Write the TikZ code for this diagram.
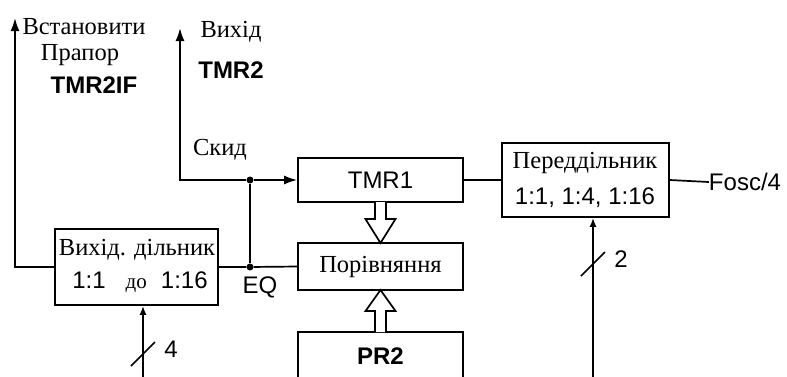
\documentclass[tikz,border=0pt]{standalone}
\usepackage{fontspec}
\setmainfont{Liberation Serif}
\setsansfont{Liberation Sans}
\usetikzlibrary{arrows.meta}
\begin{document}
\begin{tikzpicture}[x=1pt,y=-1pt,
    blk/.style={draw,line width=1.7pt,inner sep=0pt},
    wire/.style={line width=1.7pt},
    arw/.style={wire,-{Latex[length=13pt,width=9pt]}},
    arwsm/.style={wire,-{Latex[length=9pt,width=7pt]}},
    dot/.style={circle,fill,inner sep=0pt,minimum size=7pt},
    ser/.style={inner sep=0pt,font=\fontsize{24.5}{28}\selectfont},
    sans/.style={inner sep=0pt,font=\sffamily\fontsize{24}{28}\selectfont},
    sansb/.style={inner sep=0pt,font=\sffamily\bfseries\fontsize{24}{28}\selectfont}]
  \clip (0,0) rectangle (787,376);
  % блоки
  \node[blk,minimum width=163,minimum height=76] (div) at (136.5,267) {};
  \node[blk,sans,minimum width=165,minimum height=44] (tmr1) at (380.5,180) {TMR1};
  \node[blk,ser,minimum width=165,minimum height=47] (cmp) at (380.5,266.5) {Порівняння};
  \node[blk,sansb,minimum width=165,minimum height=48] (pr2) at (380.5,356) {PR2};
  \node[blk,minimum width=167,minimum height=74] (pre) at (585.5,180) {};
  % написи в блоках
  \node[ser] (divname) at (137,250) {Вихід. дільник};
  \node[sans] (divratio) at (140,282) {1:1\hspace{20pt}{\rmfamily\fontsize{21}{24}\selectfont до}\hspace{14pt}1:16};
  \node[ser] (prename) at (585,163) {Переддільник};
  \node[sans] (preratio) at (585,198) {1:1, 1:4, 1:16};
  % написи зверху
  \node[ser] (flagA) at (84,27) {Встановити};
  \node[ser] (flagB) at (80,55) {Прапор};
  \node[sansb] (flagC) at (94,85) {TMR2IF};
  \node[ser] (outA) at (231,32) {Вихід};
  \node[sansb] (outB) at (231,70) {TMR2};
  \node[ser] (rstlbl) at (220,150) {Скид};
  \node[sans] (eqlbl) at (260,287) {EQ};
  \node[sans] (fosc) at (745,182) {Fosc/4};
  % з'єднання
  \node[dot] (eq) at (250,267) {};
  \node[dot] (rst) at (250,180) {};
  \coordinate (flag) at (15,18);
  \coordinate (tmrout) at (180,28);
  \draw[wire] (div.east) -- (eq) -- (cmp.west);
  \draw[wire] (eq) -- (rst);
  \draw[arw] (rst) -- (tmr1.west);
  \draw[arw] (rst) -| (tmrout);
  \draw[arw] (div.west) -| (flag);
  \draw[wire] (tmr1.east) -- (pre.west);
  \draw[wire] (pre.east) -- (fosc.west);
  % шини знизу
  \coordinate (selA) at (143,390);
  \coordinate (selB) at (593,390);
  \draw[arwsm] (selA) -- (selA |- div.south);
  \draw[arwsm] (selB) -- (selB |- pre.south);
  \foreach \x/\y/\n in {143/354/4, 593/264/2}{
    \draw[wire] (\x-12,\y+12) -- (\x+12,\y-12);
    \node[sans] (bus\n) at (\x+28,\y-5) {\n};
  }
  % порожнисті стрілки
  \draw[wire,fill=white] (375,202) -- (375,219) -- (365.5,219) -- (380.5,243)
    -- (395.5,219) -- (386,219) -- (386,202);
  \draw[wire,fill=white] (375,332) -- (375,311) -- (365.5,311) -- (380.5,290)
    -- (395.5,311) -- (386,311) -- (386,332);
\end{tikzpicture}
\end{document}
